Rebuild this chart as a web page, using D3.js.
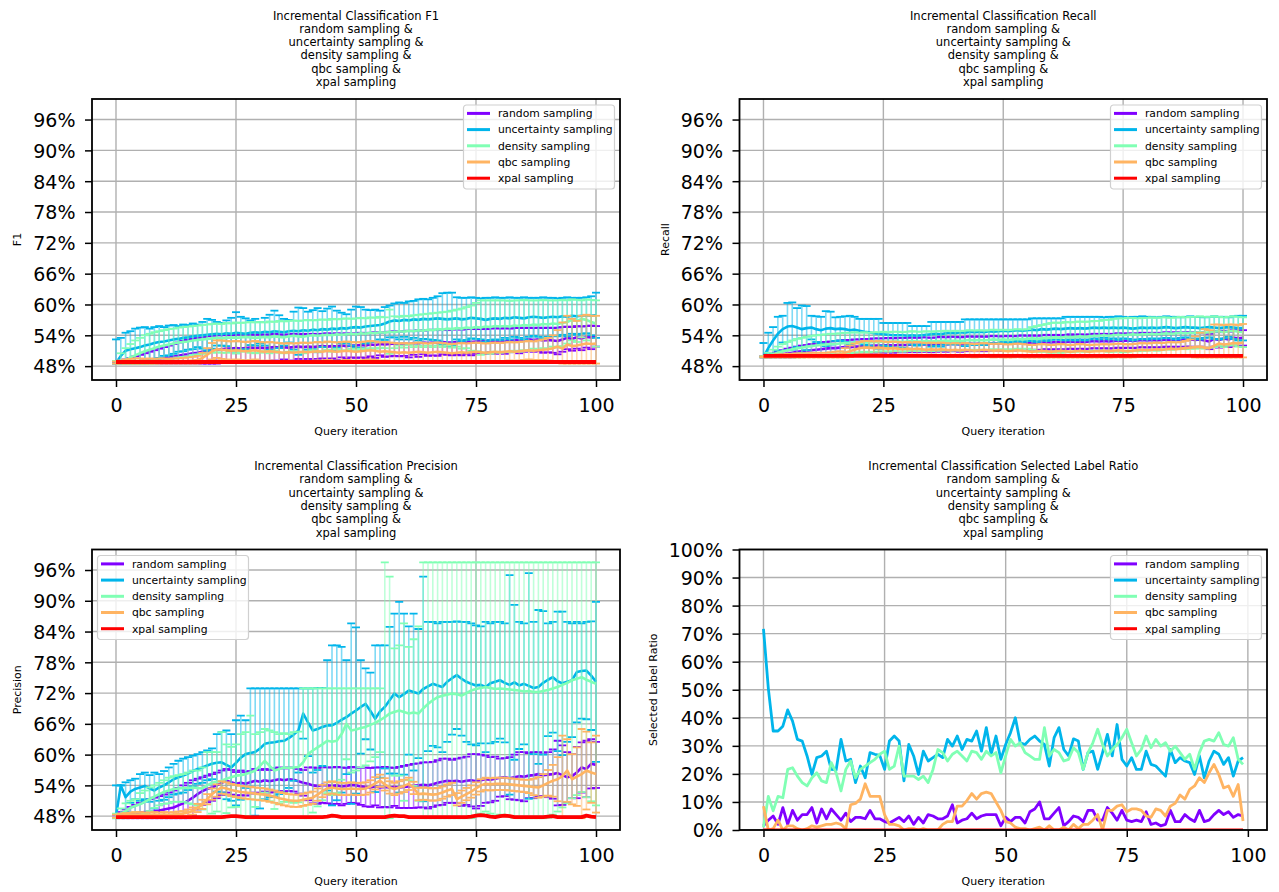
<!DOCTYPE html>
<html>
<head>
<meta charset="utf-8">
<script src="https://d3js.org/d3.v7.min.js"></script>
<style>
  body { margin: 0; background: #fff; }
  svg text { font-family: "DejaVu Sans", sans-serif; fill: #000; }
</style>
</head>
<body>
<svg id="chart" width="1279" height="892"></svg>
<script>
var names = ["random sampling", "uncertainty sampling", "density sampling", "qbc sampling", "xpal sampling"];
var colors = ["#8000ff", "#00b5eb", "#80ffb4", "#ffb462", "#ff0000"];
var xTicks = [0, 25, 50, 75, 100];
var metricTicks = [48, 54, 60, 66, 72, 78, 84, 90, 96];
var ratioTicks = [0, 10, 20, 30, 40, 50, 60, 70, 80, 90, 100];
var titleTail = ["random sampling &", "uncertainty sampling &", "density sampling &", "qbc sampling &", "xpal sampling"];

// ---- F1 (percent, mean and upper end of error bar) ----
var f1RandomMean = [48.5,48.6,48.7,48.8,48.9,49.0,49.2,49.3,49.4,49.5,
  49.6,49.7,49.9,50.0,50.2,50.3,50.5,50.6,50.8,51.0,
  51.1,51.2,51.3,51.4,51.4,51.5,51.4,51.5,51.6,51.5,
  51.6,51.5,51.6,51.7,51.6,51.7,51.6,51.7,51.8,51.7,
  51.8,51.7,51.8,51.9,51.8,51.9,51.8,52.0,51.9,52.0,
  52.0,52.1,52.0,52.2,52.1,52.3,52.2,52.3,52.4,52.3,
  52.4,52.3,52.5,52.4,52.6,52.5,52.6,52.5,52.7,52.6,
  52.6,52.7,52.6,52.8,52.7,52.8,52.9,52.8,53.0,52.9,
  53.0,52.9,53.0,53.1,53.0,53.1,53.2,53.1,53.2,53.0,
  53.1,53.0,52.9,53.2,53.5,53.3,53.6,53.4,53.7,53.6,
  53.8];
var f1RandomHi = [48.7,49.0,49.3,49.6,49.9,50.2,50.5,50.8,51.1,51.4,
  51.7,52.0,52.3,52.6,52.9,53.1,53.3,53.5,53.6,53.8,
  53.9,54.0,54.0,54.1,54.0,54.1,54.2,54.1,54.2,54.1,
  54.2,54.1,54.2,54.3,54.2,54.1,54.2,54.3,54.2,54.3,
  54.2,54.3,54.2,54.3,54.4,54.3,54.4,54.3,54.4,54.3,
  54.4,54.5,54.4,54.5,54.6,54.5,54.6,54.7,54.8,54.7,
  54.8,54.9,54.8,55.0,54.9,55.0,55.1,55.0,55.1,55.0,
  55.1,55.2,55.1,55.2,55.3,55.2,55.3,55.2,55.3,55.4,
  55.3,55.4,55.3,55.4,55.5,55.4,55.5,55.4,55.5,55.4,
  55.5,55.4,55.5,55.6,55.7,55.6,55.8,55.7,55.8,55.9,
  55.8];
var f1UncMean = [48.6,50.0,51.0,51.3,51.5,51.7,52.0,52.2,52.5,52.7,
  52.8,53.0,53.2,53.3,53.5,53.6,53.8,53.9,54.0,54.1,
  54.2,54.3,54.2,54.4,54.3,54.5,54.4,54.3,54.5,54.6,
  54.5,54.7,54.6,54.8,54.7,54.6,54.8,54.9,54.8,55.0,
  54.9,55.1,55.0,55.2,55.1,55.3,55.2,55.4,55.3,55.5,
  55.6,55.5,55.7,55.8,55.9,56.0,56.3,56.7,56.9,56.8,
  57.0,56.9,57.1,57.0,57.2,57.1,57.2,57.3,57.2,57.1,
  57.2,57.3,57.1,57.2,57.4,57.3,57.2,57.0,57.2,57.3,
  57.2,57.4,57.3,57.5,57.4,57.3,57.5,57.6,57.5,57.4,
  57.5,57.6,57.5,57.7,57.6,57.8,57.7,57.8,57.9,57.8,
  57.9];
var f1UncHi = [53.2,53.5,54.5,54.8,55.3,55.5,55.6,55.3,55.6,55.8,
  55.6,55.9,56.0,55.8,56.1,56.0,56.3,56.1,56.6,57.2,
  57.0,56.6,56.4,56.9,57.4,58.5,57.6,57.3,56.9,57.2,
  56.6,57.4,58.0,58.8,57.9,57.2,57.0,58.6,59.4,59.3,
  58.6,58.9,59.3,58.7,59.2,59.6,58.8,58.4,58.1,59.0,
  59.6,59.5,59.0,58.9,59.0,58.8,59.5,59.8,60.2,60.4,
  60.3,60.6,60.7,61.0,61.1,61.0,61.3,61.6,62.2,62.3,
  62.3,61.4,61.3,61.3,61.4,61.3,61.2,61.3,61.3,61.4,
  61.3,61.3,61.4,61.3,61.3,61.4,61.3,61.3,61.3,61.4,
  61.3,61.3,61.2,61.3,61.4,61.3,61.3,61.3,61.4,61.6,
  62.3];
var f1DenMean = [48.5,48.8,49.2,49.7,50.1,50.5,50.9,51.2,51.5,51.8,
  52.0,52.2,52.4,52.6,52.7,52.8,53.0,53.1,53.2,53.3,
  53.4,53.5,53.4,53.5,53.6,53.5,53.6,53.7,53.6,53.5,
  53.6,53.7,53.6,53.8,53.7,53.6,53.8,53.9,53.8,53.7,
  53.9,54.0,53.9,54.0,54.1,54.0,54.2,54.1,54.2,54.3,
  54.2,54.4,54.3,54.5,54.4,54.6,54.5,54.7,54.6,54.8,
  54.7,54.9,54.8,55.0,54.9,55.1,55.0,55.2,55.1,55.3,
  55.2,55.4,55.3,55.5,55.4,55.6,55.5,55.7,55.6,55.8,
  55.7,55.8,55.7,55.9,55.8,56.0,55.9,56.1,56.0,56.2,
  56.1,56.3,56.2,56.4,56.6,57.0,56.8,57.2,57.0,56.6,
  56.3];
var f1DenHi = [49.0,50.5,51.5,52.3,53.0,53.5,54.0,54.3,54.6,54.8,
  55.0,55.2,55.3,55.5,55.6,55.7,55.8,55.9,56.0,56.1,
  56.2,56.3,56.2,56.4,56.3,56.5,56.4,56.5,56.6,56.5,
  56.6,56.5,56.7,56.6,56.8,56.7,56.8,56.9,56.8,56.9,
  57.0,56.9,57.0,57.1,57.0,57.2,57.1,57.2,57.3,57.2,
  57.3,57.4,57.3,57.5,57.4,57.6,57.5,59.0,57.7,57.6,
  57.8,57.7,57.9,58.0,58.1,58.2,58.3,58.4,58.5,58.6,
  58.8,59.0,59.2,59.5,59.8,60.3,60.8,60.8,60.8,60.8,
  60.8,60.8,60.7,60.8,60.8,60.9,60.8,60.8,60.8,60.9,
  60.8,60.8,60.8,60.9,60.8,61.0,60.9,60.8,61.0,60.9,
  60.8];
var f1QbcMean = [48.6,48.7,48.8,48.8,48.9,48.9,48.8,48.9,48.8,48.9,
  48.9,48.8,48.9,48.9,49.0,49.0,49.1,49.2,49.6,50.2,
  50.9,51.3,51.2,51.1,51.0,51.1,51.0,50.9,51.0,51.1,
  50.9,50.8,50.9,50.8,50.7,50.6,50.7,50.6,50.7,50.8,
  50.7,50.8,50.9,50.8,51.0,50.9,50.8,50.9,51.0,50.9,
  50.8,50.9,51.0,51.1,51.0,50.8,50.9,50.8,50.7,50.6,
  50.7,50.6,50.7,50.8,50.7,50.6,50.7,50.8,50.7,50.6,
  50.5,50.6,50.7,50.6,50.7,50.8,50.7,50.6,50.7,50.8,
  50.7,50.8,50.9,50.8,50.9,51.0,51.1,51.0,51.1,51.2,
  51.3,51.5,51.8,51.4,52.2,51.9,52.0,52.2,52.4,52.3,
  52.4];
var f1QbcHi = [48.9,49.1,49.3,49.4,49.5,49.5,49.4,49.5,49.4,49.5,
  49.5,49.4,49.5,49.5,49.6,49.7,49.8,50.0,50.6,51.5,
  52.5,53.0,53.0,52.9,52.8,52.9,52.8,52.7,52.8,52.9,
  52.7,52.6,52.7,52.6,52.5,52.4,52.5,52.4,52.5,52.6,
  52.5,52.6,52.7,52.6,52.8,52.7,52.6,52.7,52.8,52.7,
  52.6,52.7,52.8,52.9,52.8,52.6,52.7,52.6,52.5,52.4,
  52.5,52.4,52.5,52.6,52.5,52.4,52.5,52.6,52.5,52.4,
  52.3,52.4,52.5,52.4,52.5,52.6,52.5,52.4,52.5,52.6,
  52.5,52.6,52.7,52.6,52.7,52.8,52.9,52.8,53.0,53.2,
  53.5,54.0,55.0,56.5,57.8,57.2,56.8,57.8,58.0,57.8,
  57.8];
var f1XpalMean = [48.8,48.8,48.8,48.8,48.8,48.8,48.8,48.8,48.8,48.8,
  48.8,48.8,48.8,48.8,48.8,48.8,48.8,48.8,48.8,48.8,
  48.8,48.8,48.8,48.8,48.8,48.8,48.8,48.8,48.8,48.8,
  48.8,48.8,48.8,48.8,48.8,48.8,48.8,48.8,48.8,48.8,
  48.8,48.8,48.8,48.8,48.8,48.8,48.8,48.8,48.8,48.8,
  48.8,48.8,48.8,48.8,48.8,48.8,48.8,48.8,48.8,48.8,
  48.8,48.8,48.8,48.8,48.8,48.8,48.8,48.8,48.8,48.8,
  48.8,48.8,48.8,48.8,48.8,48.8,48.8,48.8,48.8,48.8,
  48.8,48.8,48.8,48.8,48.8,48.8,48.8,48.8,48.8,48.8,
  48.8,48.8,48.8,48.8,48.8,48.8,48.8,48.8,48.8,48.8,
  48.8];

// ---- Recall ----
var recRandomMean = [49.8,49.9,50.0,50.2,50.3,50.5,50.6,50.8,50.9,51.0,
  51.1,51.2,51.3,51.4,51.5,51.5,51.6,51.7,51.7,51.8,
  51.8,51.9,51.9,52.0,52.0,52.0,52.1,52.0,52.1,52.1,
  52.1,52.2,52.1,52.2,52.2,52.1,52.2,52.3,52.2,52.3,
  52.3,52.2,52.3,52.4,52.3,52.4,52.3,52.4,52.5,52.4,
  52.4,52.5,52.4,52.5,52.6,52.5,52.6,52.5,52.6,52.7,
  52.6,52.7,52.6,52.7,52.8,52.7,52.8,52.7,52.8,52.9,
  52.8,52.9,52.8,52.9,53.0,52.9,53.0,52.9,53.0,53.1,
  53.0,53.1,53.0,53.1,53.2,53.1,53.2,53.1,53.2,53.2,
  53.1,53.2,53.0,52.8,53.3,53.1,53.4,53.2,53.5,53.4,
  53.5];
var recRandomHi = [50.0,50.3,50.6,50.9,51.1,51.4,51.6,51.8,52.0,52.1,
  52.3,52.4,52.6,52.7,52.8,52.9,53.0,53.1,53.1,53.2,
  53.2,53.3,53.3,53.4,53.4,53.4,53.5,53.4,53.5,53.5,
  53.5,53.6,53.5,53.6,53.6,53.5,53.6,53.7,53.6,53.7,
  53.7,53.6,53.7,53.8,53.7,53.8,53.7,53.8,53.9,53.8,
  53.8,53.9,53.8,53.9,54.0,53.9,54.0,53.9,54.0,54.1,
  54.0,54.1,54.0,54.1,54.2,54.1,54.2,54.1,54.2,54.3,
  54.2,54.3,54.2,54.3,54.4,54.3,54.4,54.3,54.4,54.5,
  54.4,54.5,54.4,54.5,54.6,54.5,54.6,54.5,54.6,54.6,
  54.5,54.6,54.4,54.3,54.8,54.6,54.9,54.7,55.0,54.9,
  55.0];
var recUncMean = [49.8,51.5,53.0,54.3,55.2,55.7,55.8,55.5,55.2,55.4,
  55.5,55.2,55.0,55.3,55.4,55.2,55.3,55.2,55.0,55.1,
  54.9,54.7,54.6,54.4,54.3,54.2,54.1,54.0,54.0,54.0,
  53.9,54.0,53.9,54.0,54.1,54.2,54.3,54.2,54.4,54.5,
  54.4,54.6,54.5,54.7,54.6,54.7,54.6,54.8,54.7,54.8,
  54.9,54.8,54.9,55.0,54.9,55.0,55.1,55.0,55.2,55.1,
  55.2,55.3,55.2,55.3,55.4,55.3,55.4,55.3,55.4,55.5,
  55.4,55.5,55.4,55.5,55.4,55.5,55.4,55.3,55.4,55.5,
  55.4,55.5,55.4,55.5,55.6,55.5,55.4,55.5,55.6,55.5,
  55.5,55.4,55.5,55.6,55.5,55.4,55.5,55.6,55.5,55.4,
  55.4];
var recUncHi = [52.5,54.5,55.6,57.6,57.8,60.3,60.4,59.3,59.8,59.7,
  57.8,57.7,57.6,58.7,58.6,57.5,57.6,57.7,57.8,57.6,
  57.2,57.2,57.2,57.2,57.2,56.4,56.4,56.4,56.4,56.4,
  56.4,55.8,55.8,55.8,55.8,56.6,56.6,56.6,56.6,56.6,
  56.6,56.6,57.1,57.1,57.1,57.1,57.1,57.1,57.1,57.1,
  57.1,57.1,57.1,57.1,57.1,57.1,57.3,57.3,57.3,57.3,
  57.3,57.3,57.3,57.6,57.6,57.6,57.6,57.6,57.6,57.6,
  57.6,57.5,57.6,57.6,57.7,57.6,57.5,57.6,57.6,57.7,
  57.6,57.6,57.5,57.6,57.7,57.6,57.6,57.5,57.6,57.7,
  57.6,57.6,57.5,57.6,57.7,57.6,57.6,57.5,57.7,57.8,
  57.8];
var recDenMean = [49.8,50.0,50.3,50.6,50.9,51.1,51.3,51.5,51.6,51.8,
  51.9,52.0,52.1,52.2,52.3,52.3,52.4,52.5,52.5,52.6,
  52.6,52.7,52.6,52.7,52.7,52.8,52.7,52.8,52.8,52.7,
  52.8,52.9,52.8,52.8,52.9,52.8,52.9,52.9,53.0,52.9,
  53.0,52.9,53.0,53.1,53.0,53.1,53.0,53.1,53.2,53.1,
  53.2,53.1,53.2,53.3,53.2,53.3,53.4,53.3,53.4,53.5,
  53.5,53.6,53.5,53.7,53.6,53.7,53.8,53.7,53.8,53.9,
  53.9,54.0,53.9,54.0,54.1,54.0,54.1,54.2,54.1,54.2,
  54.2,54.3,54.2,54.3,54.4,54.3,54.4,54.5,54.4,54.5,
  54.5,54.6,54.5,54.6,54.7,54.8,54.6,54.8,54.9,54.7,
  54.6];
var recDenHi = [50.0,50.6,51.2,51.8,52.3,52.7,53.0,53.3,53.5,53.7,
  53.9,54.0,54.1,54.2,54.3,54.3,54.4,54.5,54.5,54.6,
  54.5,54.6,54.5,54.6,54.6,54.7,54.6,54.7,54.7,54.6,
  54.7,54.8,54.7,54.7,54.8,54.7,54.8,54.8,54.9,54.8,
  54.9,54.8,54.9,55.0,54.9,55.0,54.9,55.0,55.1,55.0,
  55.1,55.0,55.1,55.2,55.1,55.2,55.6,55.8,56.0,56.2,
  56.4,56.5,56.4,56.6,56.5,56.6,56.7,56.6,56.7,56.8,
  56.8,57.0,57.0,57.2,57.3,57.3,57.4,57.4,57.3,57.4,
  57.4,57.5,57.4,57.5,57.5,57.4,57.5,57.6,57.5,57.6,
  57.6,57.7,57.6,57.6,57.7,57.6,57.5,57.6,57.7,57.6,
  57.5];
var recQbcMean = [49.8,49.8,49.9,49.9,49.9,50.0,49.9,50.0,50.0,50.0,
  50.1,50.0,50.1,50.1,50.1,50.2,50.3,50.6,50.9,51.2,
  51.5,51.6,51.6,51.5,51.6,51.5,51.4,51.5,51.4,51.3,
  51.4,51.3,51.4,51.3,51.2,51.3,51.2,51.3,51.2,51.1,
  51.2,51.1,51.2,51.1,51.0,51.1,51.2,51.1,51.0,51.1,
  51.0,50.9,51.0,51.1,51.0,50.9,50.8,50.9,51.0,50.9,
  50.8,50.9,51.0,50.9,50.8,50.9,51.0,50.9,50.8,50.9,
  50.9,51.0,50.9,51.0,51.1,51.0,50.9,51.0,51.1,51.2,
  51.1,51.2,51.3,51.2,51.3,51.4,51.3,51.4,51.5,51.6,
  51.7,51.8,51.6,51.5,52.0,52.4,52.2,52.3,52.5,52.4,
  52.6];
var recQbcHi = [49.9,50.0,50.2,50.3,50.3,50.4,50.4,50.5,50.5,50.5,
  50.6,50.6,50.6,50.6,50.7,50.8,50.9,51.5,52.0,52.4,
  52.7,52.9,52.9,52.8,52.9,52.8,52.7,52.8,52.7,52.6,
  52.7,52.6,52.7,52.6,52.5,52.6,52.5,52.6,52.5,52.4,
  52.5,52.4,52.5,52.4,52.3,52.4,52.5,52.4,52.3,52.4,
  52.3,52.2,52.3,52.4,52.3,52.2,52.1,52.2,52.3,52.2,
  52.1,52.2,52.3,52.2,52.1,52.2,52.3,52.2,52.1,52.2,
  52.2,52.3,52.2,52.3,52.4,52.3,52.2,52.3,52.4,52.5,
  52.4,52.5,52.6,52.5,52.6,52.7,52.6,52.7,52.9,53.2,
  53.8,54.5,55.2,55.0,56.1,56.1,56.0,56.1,56.1,56.0,
  56.2];
var recXpalMean = [50.0,50.0,50.0,50.0,50.0,50.0,50.0,50.0,50.0,50.0,
  50.0,50.0,50.0,50.0,50.0,50.0,50.0,50.0,50.0,50.0,
  50.0,50.0,50.0,50.0,50.0,50.0,50.0,50.0,50.0,50.0,
  50.0,50.0,50.0,50.0,50.0,50.0,50.0,50.0,50.0,50.0,
  50.0,50.0,50.0,50.0,50.0,50.0,50.0,50.0,50.0,50.0,
  50.0,50.0,50.0,50.0,50.0,50.0,50.0,50.0,50.0,50.0,
  50.0,50.0,50.0,50.0,50.0,50.0,50.0,50.0,50.0,50.0,
  50.0,50.0,50.0,50.0,50.0,50.0,50.0,50.0,50.0,50.0,
  50.0,50.0,50.0,50.0,50.0,50.0,50.0,50.0,50.0,50.0,
  50.0,50.0,50.0,50.0,50.0,50.0,50.0,50.0,50.0,50.0,
  50.0];

// ---- Precision ----
var preRandomMean = [48.0,48.2,48.3,48.4,48.5,48.7,48.8,48.9,49.0,49.1,
  49.3,49.5,49.7,50.1,50.5,51.0,51.6,52.3,52.9,53.3,
  53.6,54.0,54.5,54.9,54.6,54.3,54.5,54.3,54.6,54.9,
  54.7,55.0,54.8,55.0,55.2,55.0,55.2,55.1,54.8,54.5,
  54.3,54.0,53.9,54.1,54.0,53.9,54.0,53.8,53.9,54.1,
  54.0,53.8,53.7,53.6,53.8,53.6,53.7,53.6,53.7,53.6,
  53.7,53.8,53.9,54.0,54.1,54.0,54.2,54.5,54.7,54.9,
  54.8,54.9,54.7,54.9,55.0,54.8,55.0,55.2,55.1,55.3,
  55.5,55.6,55.4,55.6,55.8,55.7,55.9,56.0,56.2,56.0,
  56.1,56.2,56.4,56.0,55.6,55.8,56.5,57.5,57.2,58.2,
  58.0];
var preRandomHi = [48.3,48.8,49.3,49.8,50.2,50.6,51.0,51.3,51.6,51.9,
  52.2,52.6,53.0,53.5,54.0,54.5,55.0,55.3,55.6,55.9,
  56.2,56.5,56.9,57.2,57.0,56.6,56.9,56.6,56.8,57.2,
  57.0,57.2,57.0,57.3,57.5,57.3,57.5,57.4,57.2,57.0,
  57.5,57.5,57.4,57.6,57.5,57.5,57.6,57.5,57.4,57.6,
  57.5,57.4,57.5,57.4,57.5,57.5,57.6,57.5,57.4,57.6,
  57.8,58.0,58.2,58.3,58.5,58.5,58.6,58.9,59.2,59.2,
  59.0,59.2,59.4,59.6,60.1,60.1,60.0,59.8,59.5,59.6,
  59.2,59.3,59.5,60.0,60.5,60.5,60.3,60.5,60.5,60.1,
  60.5,61.0,62.7,61.8,60.5,60.1,61.5,62.4,62.7,63.0,
  62.5];
var preUncMean = [48.0,54.0,51.7,52.8,53.3,53.6,53.9,53.4,53.0,53.6,
  54.0,54.6,55.2,55.6,55.9,56.3,56.8,57.2,57.5,57.9,
  58.2,58.4,58.5,58.0,57.5,58.4,59.4,60.1,60.3,60.5,
  61.2,62.1,62.3,62.4,62.6,62.7,63.2,63.9,64.7,68.0,
  66.3,64.7,65.0,65.4,65.7,65.7,66.2,66.8,67.3,68.0,
  68.6,69.3,69.9,68.5,67.0,68.4,69.3,70.6,71.9,71.2,
  71.8,72.5,72.2,71.9,72.8,73.3,73.8,73.5,73.2,74.2,
  74.9,75.5,74.8,74.2,73.8,73.5,73.6,73.2,73.9,74.2,
  74.5,74.0,73.6,74.1,73.5,73.8,73.4,73.0,73.2,74.0,
  74.6,75.1,74.3,73.9,74.2,74.5,76.1,76.3,76.4,75.4,
  74.2];
var preUncHi = [54.0,54.0,54.6,55.0,55.3,56.2,56.5,56.0,56.5,56.2,
  56.8,57.5,58.2,58.8,59.2,59.5,59.8,60.1,60.5,60.8,
  61.2,64.0,64.4,64.7,64.0,66.7,67.6,66.7,72.9,72.9,
  72.9,72.9,72.9,72.9,72.9,72.9,72.9,72.9,72.9,72.9,
  72.9,72.9,73.0,73.0,78.4,81.3,81.3,81.0,78.4,85.6,
  84.8,78.4,76.8,76.0,81.3,81.3,81.3,84.9,87.5,89.8,
  87.5,85.0,87.5,84.5,94.7,85.9,85.9,85.6,85.9,85.9,
  85.9,86.0,85.9,85.9,85.6,85.2,85.0,85.9,85.6,85.9,
  85.9,85.6,95.0,89.2,85.9,85.6,95.4,85.9,88.2,88.0,
  85.6,85.9,87.9,87.9,85.9,85.6,85.9,85.6,85.9,86.0,
  89.8];
var preDenMean = [48.0,48.5,49.0,49.6,50.0,50.3,50.8,51.3,51.8,52.3,
  52.7,53.0,53.3,53.4,53.5,53.5,53.6,53.5,53.4,54.0,
  54.5,54.7,54.9,55.3,55.6,55.9,56.0,56.2,56.5,56.9,
  57.8,58.8,57.8,56.9,57.2,57.5,57.4,57.5,57.6,58.5,
  60.1,60.8,61.4,62.0,62.7,62.5,62.7,64.0,66.0,64.7,
  64.9,65.2,65.4,65.8,66.2,66.7,67.3,68.0,68.3,68.6,
  68.3,68.0,68.2,68.0,69.0,69.9,70.6,71.2,71.5,71.7,
  71.9,71.8,71.5,72.0,72.5,72.8,73.0,73.2,73.0,72.8,
  72.9,72.8,72.7,72.6,72.5,72.3,72.4,72.2,72.2,72.4,
  72.6,72.9,73.2,73.6,74.0,74.5,74.8,75.1,74.6,74.2,
  73.8];
var preDenHi = [48.5,49.5,50.5,51.0,51.3,52.5,53.0,53.6,54.0,54.5,
  55.0,55.5,55.8,56.0,56.2,56.5,56.9,56.9,57.5,60.5,
  60.5,60.5,64.4,62.0,61.5,62.0,64.0,64.4,67.6,64.0,
  64.4,65.0,64.7,64.4,64.0,64.2,64.0,64.4,64.5,72.9,
  72.9,72.9,72.9,72.9,72.9,72.9,72.9,72.9,72.9,72.9,
  72.9,72.9,72.9,72.9,72.9,72.9,97.5,94.7,80.7,81.3,
  85.6,81.0,82.5,85.0,97.5,97.5,97.5,97.5,97.5,97.5,
  97.5,97.5,97.5,97.5,97.5,97.5,97.5,97.5,97.5,97.5,
  97.5,97.5,97.5,97.5,97.5,97.5,97.5,97.5,97.5,97.5,
  97.5,97.5,97.5,97.5,97.5,97.5,97.5,97.5,97.5,97.5,
  97.5];
var preQbcMean = [48.0,48.1,48.2,48.3,48.3,48.3,48.2,48.2,48.3,48.2,
  48.3,48.2,48.3,48.4,48.5,48.7,49.0,49.6,50.3,51.3,
  52.3,53.0,53.6,53.4,53.1,52.9,52.7,52.6,52.5,52.4,
  52.3,52.2,52.0,51.8,51.5,51.3,51.1,51.0,51.0,51.2,
  51.4,51.6,52.2,52.9,53.4,53.6,53.4,53.3,53.3,53.4,
  53.3,53.3,53.4,53.8,54.4,54.9,54.2,53.6,53.3,53.6,
  53.9,54.3,53.5,52.3,52.4,52.3,52.2,52.3,52.6,53.0,
  53.3,51.3,51.8,52.3,52.8,53.4,54.0,54.3,54.2,54.3,
  54.3,54.3,54.2,54.1,54.0,53.9,53.8,53.7,53.6,54.0,
  54.5,54.9,55.2,55.8,56.9,55.2,55.7,56.2,56.9,56.5,
  56.2];
var preQbcHi = [48.3,48.5,48.6,48.7,48.8,48.8,48.7,48.7,48.8,48.7,
  48.8,48.7,48.8,48.9,49.0,49.3,49.7,50.4,51.2,52.3,
  53.4,54.2,54.8,54.6,54.3,54.1,53.9,53.8,53.7,53.6,
  53.5,53.4,53.2,53.0,52.7,52.5,52.3,52.2,52.2,52.4,
  52.6,52.8,53.4,54.1,54.6,54.8,54.6,54.5,54.5,54.6,
  54.5,54.5,54.6,55.0,55.6,56.1,55.4,54.8,54.5,54.8,
  55.1,55.5,54.7,53.5,53.6,53.5,53.4,53.5,53.8,54.2,
  54.5,52.5,53.0,53.5,54.0,54.6,55.2,55.5,55.4,55.5,
  55.5,55.5,55.4,55.3,55.2,55.1,55.1,55.3,55.6,56.2,
  57.0,58.0,59.5,63.7,63.0,60.1,61.4,65.0,64.5,62.4,
  63.7];
var preXpalMean = [47.8,47.8,47.8,47.8,47.8,47.8,47.8,47.8,47.8,47.8,
  47.8,47.8,47.8,47.8,47.8,47.8,47.8,47.8,47.8,47.8,
  47.8,47.8,47.8,47.9,48.0,48.0,47.9,47.8,47.8,47.8,
  47.8,47.8,47.8,47.8,47.8,47.8,47.8,47.8,47.8,47.8,
  47.8,47.8,47.8,47.8,47.9,48.1,48.0,47.8,47.8,47.8,
  47.8,47.8,47.8,47.8,47.8,47.8,47.8,48.0,48.1,48.0,
  48.0,47.8,47.8,47.8,47.8,47.8,47.8,47.8,47.8,47.8,
  47.8,47.8,47.8,47.8,47.9,48.1,48.2,48.1,47.9,47.8,
  48.0,48.1,48.0,47.8,47.8,47.8,47.8,47.8,47.8,47.8,
  47.9,48.0,47.8,47.8,47.8,47.8,47.8,47.8,48.1,47.9,
  47.8];

// ---- Selected label ratio (percent, iterations 0..99) ----
var ratioRandom = [1.5,3.5,5.0,2.0,8.0,2.0,7.0,3.5,5.5,5.5,
  8.0,2.5,7.5,4.0,7.5,5.5,3.5,6.0,3.0,4.5,
  4.5,4.0,7.0,4.0,4.0,3.0,2.5,3.5,4.5,3.0,
  5.0,2.0,4.5,2.5,5.5,5.0,4.0,4.0,5.0,9.0,
  2.5,3.5,4.0,6.0,4.0,5.0,5.5,5.5,5.5,1.5,
  4.5,3.0,4.5,4.5,2.5,6.5,7.5,10.0,4.0,4.0,
  6.0,8.0,1.5,3.0,5.0,4.5,3.0,7.0,7.0,3.5,
  3.5,8.0,6.0,3.5,7.0,3.5,3.0,3.5,3.0,6.5,
  2.0,2.5,1.5,2.0,7.0,3.0,3.0,5.5,4.0,3.0,
  7.0,3.0,3.5,5.5,7.0,5.5,6.5,4.5,5.5,5.0];
var ratioUnc = [71.7,50.5,35.3,35.3,37.0,42.8,38.8,32.3,31.7,26.4,
  19.8,25.8,26.4,28.1,21.6,21.4,32.3,24.6,25.2,16.9,
  22.8,18.6,27.6,27.0,26.6,21.6,31.7,33.5,31.7,17.5,
  30.5,26.4,19.8,28.1,24.6,25.8,27.0,25.8,32.3,29.9,
  33.5,28.7,32.3,31.7,35.3,28.1,36.5,27.0,33.5,25.2,
  30.5,34.7,40.0,31.1,30.5,32.3,33.5,31.7,30.5,22.8,
  32.9,36.5,28.7,26.4,32.5,31.7,21.6,27.6,28.1,21.6,
  27.6,34.1,26.4,37.6,25.2,22.8,25.8,21.6,21.6,28.1,
  23.4,22.8,21.0,19.2,28.7,24.0,25.8,24.6,24.0,19.8,
  26.4,18.6,24.6,28.1,27.0,23.4,25.8,19.2,24.6,25.8];
var ratioDen = [1.0,12.0,6.8,12.0,11.5,21.6,22.2,19.2,16.9,15.7,
  18.6,20.4,17.5,16.9,24.0,20.4,13.9,21.6,24.6,18.6,
  21.6,22.8,24.0,25.2,27.0,28.1,21.6,22.8,29.9,19.2,
  19.2,19.2,18.0,19.2,16.9,21.6,28.7,27.6,24.6,27.0,
  28.1,26.4,24.6,28.1,27.6,25.2,28.1,26.4,27.6,20.4,
  26.4,32.3,29.9,31.1,27.6,26.4,25.2,25.2,36.5,26.4,
  28.7,27.6,24.6,25.2,29.3,27.6,21.6,27.6,31.1,35.9,
  30.5,26.4,28.7,30.5,32.9,35.9,31.1,26.4,28.7,33.5,
  29.3,32.3,29.9,31.1,28.1,29.9,27.6,25.2,27.0,21.6,
  27.6,31.7,32.3,31.7,34.7,30.5,29.9,32.9,25.2,23.4];
var ratioQbc = [8.5,0.0,0.5,3.5,0.0,1.5,1.5,0.5,0.0,0.5,
  1.5,1.0,1.5,2.0,2.0,2.5,2.0,0.5,9.0,9.5,
  11.0,16.5,12.0,12.0,12.0,5.5,2.0,2.0,1.5,0.0,
  0.5,0.5,0.0,0.5,0.0,0.0,0.0,2.0,3.0,3.0,
  8.5,8.5,10.5,13.0,11.0,13.0,13.5,13.0,10.0,7.0,
  3.0,2.5,1.0,0.5,0.5,0.0,0.5,1.0,0.0,1.5,
  0.0,0.0,1.0,0.0,2.0,0.5,2.0,2.0,3.5,5.5,
  0.0,7.0,7.0,8.5,9.0,6.5,7.5,7.5,7.0,5.0,
  4.5,7.5,7.0,5.0,8.5,9.5,12.5,11.0,14.5,15.7,
  18.6,16.9,20.4,23.4,19.8,15.0,15.7,12.0,16.2,3.2];
var ratioXpal = [0,0,0,0,0,0,0,0,0,0,
  0,0,0,0,0,0,0,0,0,0,
  0,0,0,0,0,0,0,0,0,0,
  0,0,0,0,0,0,0,0,0,0,
  0,0,0,0,0,0,0,0,0,0,
  0,0,0,0,0,0,0,0,0,0,
  0,0,0,0,0,0,0,0,0,0,
  0,0,0,0,0,0,0,0,0,0,
  0,0,0,0,0,0,0,0,0,0,
  0,0,0,0,0,0,0,0,0,0];

var svg = d3.select("#chart");

function drawPanel(p) {
  var x = d3.scaleLinear().domain(p.xDomain).range([p.left, p.left + p.width]);
  var y = d3.scaleLinear().domain(p.yDomain).range([p.top + p.height, p.top]);
  var g = svg.append("g");

  // grid
  g.selectAll(null).data(xTicks).enter().append("line")
    .attr("x1", function(d) { return x(d); }).attr("x2", function(d) { return x(d); })
    .attr("y1", p.top).attr("y2", p.top + p.height)
    .attr("stroke", "#b0b0b0").attr("stroke-width", 1.4);
  g.selectAll(null).data(p.yTicks).enter().append("line")
    .attr("y1", function(d) { return y(d); }).attr("y2", function(d) { return y(d); })
    .attr("x1", p.left).attr("x2", p.left + p.width)
    .attr("stroke", "#b0b0b0").attr("stroke-width", 1.4);

  svg.append("clipPath").attr("id", "clip" + p.id).append("rect")
    .attr("x", p.left).attr("y", p.top).attr("width", p.width).attr("height", p.height);
  var plot = g.append("g").attr("clip-path", "url(#clip" + p.id + ")");

  p.series.forEach(function(s, k) {
    var idx = d3.range(s.mean.length);
    if (s.hi) {
      // error bar: mean +/- (hi - mean), never below the lowest score of the runs
      var lo = function(i) { return Math.max(2 * s.mean[i] - s.hi[i], p.floor); };
      var eb = plot.append("g");
      eb.selectAll(null).data(idx).enter().append("line")
        .attr("x1", function(i) { return x(i); }).attr("x2", function(i) { return x(i); })
        .attr("y1", function(i) { return y(lo(i)); })
        .attr("y2", function(i) { return y(s.hi[i]); })
        .attr("stroke", colors[k]).attr("stroke-opacity", 0.5).attr("stroke-width", 1.6);
      [function(i) { return s.hi[i]; }, lo].forEach(function(f) {
        eb.selectAll(null).data(idx).enter().append("line")
          .attr("x1", function(i) { return x(i) - 4; }).attr("x2", function(i) { return x(i) + 4; })
          .attr("y1", function(i) { return y(f(i)); }).attr("y2", function(i) { return y(f(i)); })
          .attr("stroke", colors[k]).attr("stroke-width", 1.8);
      });
    }
    var line = d3.line().x(function(i) { return x(i); }).y(function(i) { return y(s.mean[i]); });
    plot.append("path").datum(idx).attr("d", line)
      .attr("fill", "none").attr("stroke", colors[k])
      .attr("stroke-width", s.width || 2.6).attr("stroke-linejoin", "round");
  });

  // frame
  g.append("rect").attr("x", p.left).attr("y", p.top)
    .attr("width", p.width).attr("height", p.height)
    .attr("fill", "none").attr("stroke", "#000").attr("stroke-width", 1.8);

  // axes
  var xa = g.append("g").attr("transform", "translate(0," + (p.top + p.height) + ")")
    .call(d3.axisBottom(x).tickValues(xTicks).tickSize(7).tickFormat(d3.format("d")));
  xa.select(".domain").remove();
  xa.attr("font-family", "DejaVu Sans").attr("font-size", 19);
  xa.selectAll("line").attr("stroke-width", 1.5);
  xa.selectAll("text").attr("y", 31.5).attr("dy", null);

  var ya = g.append("g").attr("transform", "translate(" + p.left + ",0)")
    .call(d3.axisLeft(y).tickValues(p.yTicks).tickSize(7).tickFormat(function(d) { return d + "%"; }));
  ya.select(".domain").remove();
  ya.attr("font-family", "DejaVu Sans").attr("font-size", 19);
  ya.selectAll("line").attr("stroke-width", 1.5);
  ya.selectAll("text").attr("x", -16.5).attr("dy", "0.36em");

  var bb = ya.node().getBBox();
  var cy = p.top + p.height / 2;
  g.append("text").attr("transform", "translate(" + (p.left + bb.x - 12) + "," + cy + ") rotate(-90)")
    .attr("text-anchor", "middle").style("font-size", "11px").text(p.ylabel);

  g.append("text").attr("x", p.left + p.width / 2).attr("y", p.top + p.height + 55)
    .attr("text-anchor", "middle").style("font-size", "11px").text("Query iteration");

  // title
  var lines = [p.title].concat(titleTail);
  g.selectAll(null).data(lines).enter().append("text")
    .attr("x", p.left + p.width / 2)
    .attr("y", function(d, i) { return p.top - 13 - (lines.length - 1 - i) * 13.3; })
    .attr("text-anchor", "middle").style("font-size", "11.5px")
    .text(function(d) { return d; });

  // legend
  var lw = 151, lh = 84;
  var lx = p.legend === "left" ? p.left + 5.5 : p.left + p.width - 5.5 - lw;
  var lg = g.append("g").attr("transform", "translate(" + lx + "," + (p.top + 6) + ")");
  lg.append("rect").attr("width", lw).attr("height", lh).attr("rx", 3)
    .attr("fill", "#fff").attr("fill-opacity", 0.8).attr("stroke", "#d0d0d0").attr("stroke-width", 1.2);
  names.forEach(function(n, k) {
    var ry = 8.4 + k * 16.2;
    lg.append("line").attr("x1", 3.5).attr("x2", 26.5).attr("y1", ry).attr("y2", ry)
      .attr("stroke", colors[k]).attr("stroke-width", 3);
    lg.append("text").attr("x", 34.4).attr("y", ry + 3.8).style("font-size", "10.8px").text(n);
  });
}

drawPanel({
  id: 1, left: 92, top: 99, width: 528, height: 281, floor: 48.5,
  xDomain: [-5, 105], yDomain: [45.3, 100], yTicks: metricTicks,
  title: "Incremental Classification F1", ylabel: "F1", legend: "right",
  series: [
    { mean: f1RandomMean, hi: f1RandomHi },
    { mean: f1UncMean, hi: f1UncHi },
    { mean: f1DenMean, hi: f1DenHi },
    { mean: f1QbcMean, hi: f1QbcHi },
    { mean: f1XpalMean, width: 3.8 }
  ]
});

drawPanel({
  id: 2, left: 739.5, top: 99, width: 527.5, height: 281, floor: 49.7,
  xDomain: [-5, 105], yDomain: [45.3, 100], yTicks: metricTicks,
  title: "Incremental Classification Recall", ylabel: "Recall", legend: "right",
  series: [
    { mean: recRandomMean, hi: recRandomHi },
    { mean: recUncMean, hi: recUncHi },
    { mean: recDenMean, hi: recDenHi },
    { mean: recQbcMean, hi: recQbcHi },
    { mean: recXpalMean, width: 3.8 }
  ]
});

drawPanel({
  id: 3, left: 92, top: 549.5, width: 528, height: 280.5, floor: 47.6,
  xDomain: [-5, 105], yDomain: [45.3, 100], yTicks: metricTicks,
  title: "Incremental Classification Precision", ylabel: "Precision", legend: "left",
  series: [
    { mean: preRandomMean, hi: preRandomHi },
    { mean: preUncMean, hi: preUncHi },
    { mean: preDenMean, hi: preDenHi },
    { mean: preQbcMean, hi: preQbcHi },
    { mean: preXpalMean, width: 3.8 }
  ]
});

drawPanel({
  id: 4, left: 739.5, top: 549.5, width: 527.5, height: 280.5, floor: 0,
  xDomain: [-4.95, 103.95], yDomain: [0, 100], yTicks: ratioTicks,
  title: "Incremental Classification Selected Label Ratio", ylabel: "Selected Label Ratio", legend: "right",
  series: [
    { mean: ratioRandom, width: 2.8 },
    { mean: ratioUnc, width: 2.8 },
    { mean: ratioDen, width: 2.8 },
    { mean: ratioQbc, width: 2.8 },
    { mean: ratioXpal, width: 2.8 }
  ]
});
</script>
</body>
</html>
